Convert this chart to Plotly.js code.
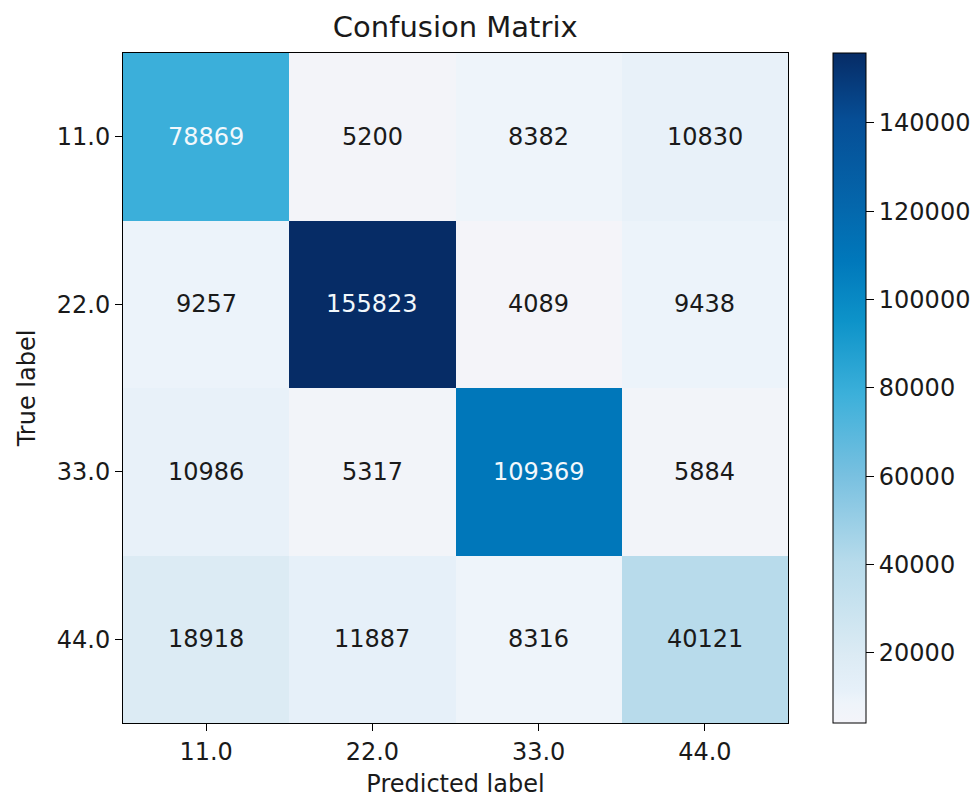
<!DOCTYPE html>
<html>
<head>
<meta charset="utf-8">
<script src="https://cdn.plot.ly/plotly-3.0.1.min.js"></script>
<style>html,body{margin:0;padding:0;background:#fff}</style>
</head>
<body>
<div id="chart" style="width:979px;height:798px"></div>
<script>
const predictedLabels = ["11.0", "22.0", "33.0", "44.0"];
const trueLabels = ["11.0", "22.0", "33.0", "44.0"];
const row11 = [78869, 5200, 8382, 10830];
const row22 = [9257, 155823, 4089, 9438];
const row33 = [10986, 5317, 109369, 5884];
const row44 = [18918, 11887, 8316, 40121];
const matrix = [row11, row22, row33, row44];
const colorbarTicks = [20000, 40000, 60000, 80000, 100000, 120000, 140000];

const xIdx = predictedLabels.map((_, i) => i);
const yIdx = trueLabels.map((_, i) => i);

const flat = matrix.flat();
const zmin = Math.min(...flat);
const zmax = Math.max(...flat);
const thresh = zmax / 2;

const FONT = 'DejaVu Sans';
const annotations = [];
matrix.forEach((row, i) => {
  row.forEach((v, j) => {
    annotations.push({
      x: xIdx[j], y: yIdx[i], xref: 'x', yref: 'y',
      text: String(v), showarrow: false,
      font: {family: FONT, size: 24, color: v > thresh ? '#f2f8fc' : '#1a1a1a'}
    });
  });
});

const colorscale = [
  [0.0, '#f4f4f9'],
  [0.03, '#eef4fa'],
  [0.05, '#e6f0f9'],
  [0.1, '#dcebf4'],
  [0.24, '#b7dbeb'],
  [0.37, '#78c0e0'],
  [0.49, '#3cb0da'],
  [0.6, '#0d93c9'],
  [0.69, '#0078bb'],
  [0.77, '#0467ac'],
  [0.9, '#064e96'],
  [1.0, '#062c66']
];

const trace = {
  type: 'heatmap',
  x: xIdx,
  y: yIdx,
  z: matrix,
  zmin: zmin,
  zmax: zmax,
  colorscale: colorscale,
  hoverinfo: 'z',
  colorbar: {
    x: 1.068, xanchor: 'left', xref: 'paper',
    y: 0, yanchor: 'bottom', len: 1, lenmode: 'fraction',
    thickness: 33, thicknessmode: 'pixels',
    outlinecolor: '#000', outlinewidth: 1,
    tickvals: colorbarTicks, tickformat: 'd', ticks: 'outside', ticklen: 8, tickcolor: '#000',
    tickfont: {family: FONT, size: 24, color: '#1a1a1a'},
    xpad: 0, ypad: 0, borderwidth: 0
  }
};

const layout = {
  width: 979, height: 798,
  margin: {l: 123, r: 191, t: 53, b: 75, autoexpand: false},
  paper_bgcolor: '#fff', plot_bgcolor: '#fff',
  title: {text: 'Confusion Matrix', font: {family: FONT, size: 29, color: '#1a1a1a'}, x: 0.465, xanchor: 'center', y: 0.966, yanchor: 'middle'},
  xaxis: {
    range: [-0.5, predictedLabels.length - 0.5],
    tickvals: xIdx, ticktext: predictedLabels,
    ticks: 'outside', ticklen: 7, tickcolor: '#000',
    tickfont: {family: FONT, size: 24, color: '#1a1a1a'},
    showline: true, linecolor: '#000', linewidth: 1, mirror: true,
    showgrid: false, zeroline: false,
    title: {text: 'Predicted label', font: {family: FONT, size: 24, color: '#1a1a1a'}, standoff: 10}
  },
  yaxis: {
    range: [trueLabels.length - 0.5, -0.5],
    tickvals: yIdx, ticktext: trueLabels,
    ticks: 'outside', ticklen: 7, tickcolor: '#000',
    tickfont: {family: FONT, size: 24, color: '#1a1a1a'},
    showline: true, linecolor: '#000', linewidth: 1, mirror: true,
    showgrid: false, zeroline: false,
    title: {text: 'True label', font: {family: FONT, size: 24, color: '#1a1a1a'}, standoff: 14}
  },
  annotations: annotations
};

Plotly.newPlot('chart', [trace], layout, {displayModeBar: false, staticPlot: true});
</script>
</body>
</html>
